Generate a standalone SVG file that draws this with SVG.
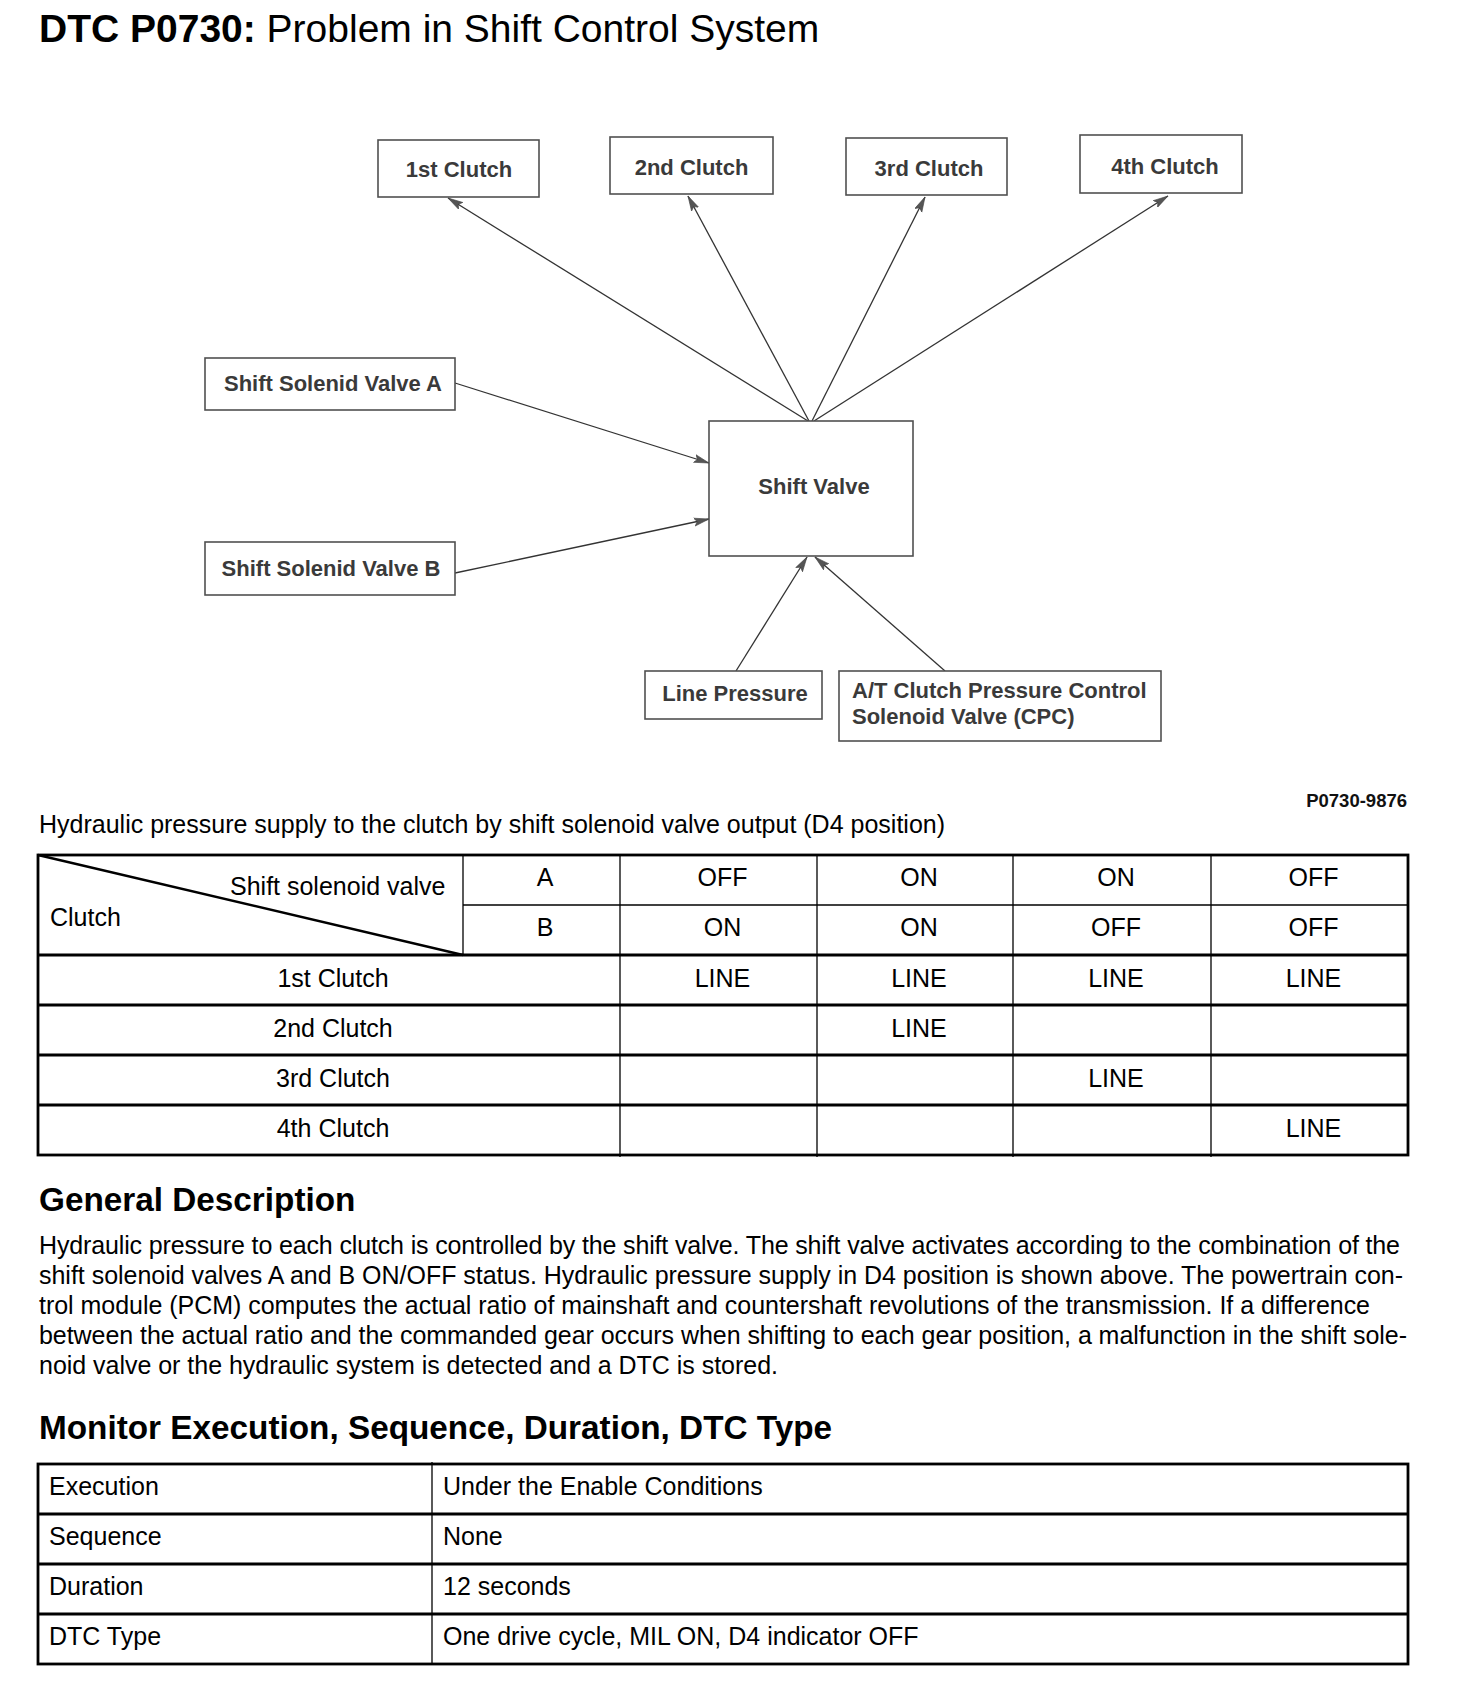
<svg xmlns="http://www.w3.org/2000/svg" width="1472" height="1688" viewBox="0 0 1472 1688">
<style>
.bg{fill:#fff}
.node rect{fill:#fff;stroke:#505050;stroke-width:1.6}
.nt{font-family:"Liberation Sans",Arial,sans-serif;font-weight:bold;font-size:22px;fill:#3a3a3a}
.conn line{stroke:#333;stroke-width:1.3;fill:none;marker-end:url(#arr)}
.tx{font-family:"Liberation Sans",Arial,sans-serif;font-size:25px;fill:#000}
.mid{text-anchor:middle}
.hd{font-family:"Liberation Sans",Arial,sans-serif;font-size:33.3px;font-weight:bold;fill:#000}
.fig{font-family:"Liberation Sans",Arial,sans-serif;font-size:18.5px;font-weight:bold;fill:#111;text-anchor:end}
.thick{stroke:#000;stroke-width:2.8;fill:none}
.thin{stroke:#000;stroke-width:1.3;fill:none}
</style>
<defs>
<marker id="arr" markerUnits="userSpaceOnUse" markerWidth="16" markerHeight="10" viewBox="0 0 16 10" refX="15" refY="5" orient="auto">
<path d="M0,1 L15,5 L0,9 L3,5 z" fill="#555" stroke="#444" stroke-width="0.6"/>
</marker>
</defs>
<rect class="bg" x="0" y="0" width="1472" height="1688"/>

<text x="39" y="42" font-family="'Liberation Sans',Arial,sans-serif" font-size="39" fill="#000"><tspan font-weight="bold">DTC P0730:</tspan> Problem in Shift Control System</text>

<g id="connectors" class="conn">
<line x1="808" y1="421" x2="448" y2="198"/>
<line x1="809" y1="421" x2="688" y2="196"/>
<line x1="812" y1="421" x2="925" y2="197"/>
<line x1="814" y1="421" x2="1168" y2="196"/>
<line x1="455" y1="383" x2="709" y2="463"/>
<line x1="455" y1="573" x2="709" y2="519"/>
<line x1="736" y1="671" x2="807" y2="557"/>
<line x1="945" y1="671" x2="815" y2="557"/>
</g>

<g id="clutch1" class="node"><rect x="378" y="140" width="161" height="57"/><text class="nt mid" x="459" y="177">1st Clutch</text></g>
<g id="clutch2" class="node"><rect x="610" y="137" width="163" height="57"/><text class="nt mid" x="691.5" y="175">2nd Clutch</text></g>
<g id="clutch3" class="node"><rect x="846" y="138" width="161" height="57"/><text class="nt mid" x="929" y="176">3rd Clutch</text></g>
<g id="clutch4" class="node"><rect x="1080" y="135" width="162" height="58"/><text class="nt mid" x="1165" y="174">4th Clutch</text></g>
<g id="ssvA" class="node"><rect x="205" y="358" width="250" height="52"/><text class="nt mid" x="333" y="391">Shift Solenid Valve A</text></g>
<g id="ssvB" class="node"><rect x="205" y="542" width="250" height="53"/><text class="nt mid" x="331" y="576">Shift Solenid Valve B</text></g>
<g id="shiftValve" class="node"><rect x="709" y="421" width="204" height="135"/><text class="nt mid" x="814" y="494">Shift Valve</text></g>
<g id="linePressure" class="node"><rect x="645" y="671" width="177" height="48"/><text class="nt mid" x="735" y="701">Line Pressure</text></g>
<g id="cpc" class="node"><rect x="839" y="671" width="322" height="70"/><text class="nt" x="852" y="698">A/T Clutch Pressure Control</text><text class="nt" x="852" y="724">Solenoid Valve (CPC)</text></g>

<text class="fig" x="1407" y="807">P0730-9876</text>
<text class="tx" x="39" y="833">Hydraulic pressure supply to the clutch by shift solenoid valve output (D4 position)</text>

<g id="table1">
<rect class="thick" x="38" y="855" width="1370" height="300"/>
<line class="thin" x1="463" y1="905" x2="1408" y2="905"/>
<line class="thick" x1="38" y1="955" x2="1408" y2="955"/>
<line class="thick" x1="38" y1="1005" x2="1408" y2="1005"/>
<line class="thick" x1="38" y1="1055" x2="1408" y2="1055"/>
<line class="thick" x1="38" y1="1105" x2="1408" y2="1105"/>
<line class="thin" x1="463" y1="855" x2="463" y2="955"/>
<line class="thin" x1="620" y1="855" x2="620" y2="1157"/>
<line class="thin" x1="817" y1="855" x2="817" y2="1157"/>
<line class="thin" x1="1013" y1="855" x2="1013" y2="1157"/>
<line class="thin" x1="1211" y1="855" x2="1211" y2="1157"/>
<line x1="38" y1="855" x2="463" y2="955" stroke="#000" stroke-width="2.4"/>
<text class="tx" x="230" y="895">Shift solenoid valve</text>
<text class="tx" x="50" y="926">Clutch</text>
<text class="tx mid" x="545" y="886">A</text>
<text class="tx mid" x="722.5" y="886">OFF</text>
<text class="tx mid" x="919" y="886">ON</text>
<text class="tx mid" x="1116" y="886">ON</text>
<text class="tx mid" x="1313.5" y="886">OFF</text>
<text class="tx mid" x="545" y="936">B</text>
<text class="tx mid" x="722.5" y="936">ON</text>
<text class="tx mid" x="919" y="936">ON</text>
<text class="tx mid" x="1116" y="936">OFF</text>
<text class="tx mid" x="1313.5" y="936">OFF</text>
<text class="tx mid" x="333" y="987">1st Clutch</text>
<text class="tx mid" x="722.5" y="987">LINE</text>
<text class="tx mid" x="919" y="987">LINE</text>
<text class="tx mid" x="1116" y="987">LINE</text>
<text class="tx mid" x="1313.5" y="987">LINE</text>
<text class="tx mid" x="333" y="1037">2nd Clutch</text>
<text class="tx mid" x="919" y="1037">LINE</text>
<text class="tx mid" x="333" y="1087">3rd Clutch</text>
<text class="tx mid" x="1116" y="1087">LINE</text>
<text class="tx mid" x="333" y="1137">4th Clutch</text>
<text class="tx mid" x="1313.5" y="1137">LINE</text>
</g>

<text class="hd" x="39" y="1211">General Description</text>
<g id="para" class="tx">
<text x="39" y="1254" textLength="1361" lengthAdjust="spacing">Hydraulic pressure to each clutch is controlled by the shift valve. The shift valve activates according to the combination of the</text>
<text x="39" y="1284" textLength="1364" lengthAdjust="spacing">shift solenoid valves A and B ON/OFF status. Hydraulic pressure supply in D4 position is shown above. The powertrain con-</text>
<text x="39" y="1314" textLength="1331" lengthAdjust="spacing">trol module (PCM) computes the actual ratio of mainshaft and countershaft revolutions of the transmission. If a difference</text>
<text x="39" y="1344" textLength="1368" lengthAdjust="spacing">between the actual ratio and the commanded gear occurs when shifting to each gear position, a malfunction in the shift sole-</text>
<text x="39" y="1374" textLength="739" lengthAdjust="spacing">noid valve or the hydraulic system is detected and a DTC is stored.</text>
</g>

<text class="hd" x="39" y="1439">Monitor Execution, Sequence, Duration, DTC Type</text>
<g id="table2">
<rect class="thick" x="38" y="1464" width="1370" height="200"/>
<line class="thick" x1="38" y1="1514" x2="1408" y2="1514"/>
<line class="thick" x1="38" y1="1564" x2="1408" y2="1564"/>
<line class="thick" x1="38" y1="1614" x2="1408" y2="1614"/>
<line class="thin" x1="432" y1="1462" x2="432" y2="1664"/>
<text class="tx" x="49" y="1495">Execution</text>
<text class="tx" x="443" y="1495">Under the Enable Conditions</text>
<text class="tx" x="49" y="1545">Sequence</text>
<text class="tx" x="443" y="1545">None</text>
<text class="tx" x="49" y="1595">Duration</text>
<text class="tx" x="443" y="1595">12 seconds</text>
<text class="tx" x="49" y="1645">DTC Type</text>
<text class="tx" x="443" y="1645">One drive cycle, MIL ON, D4 indicator OFF</text>
</g>
</svg>
